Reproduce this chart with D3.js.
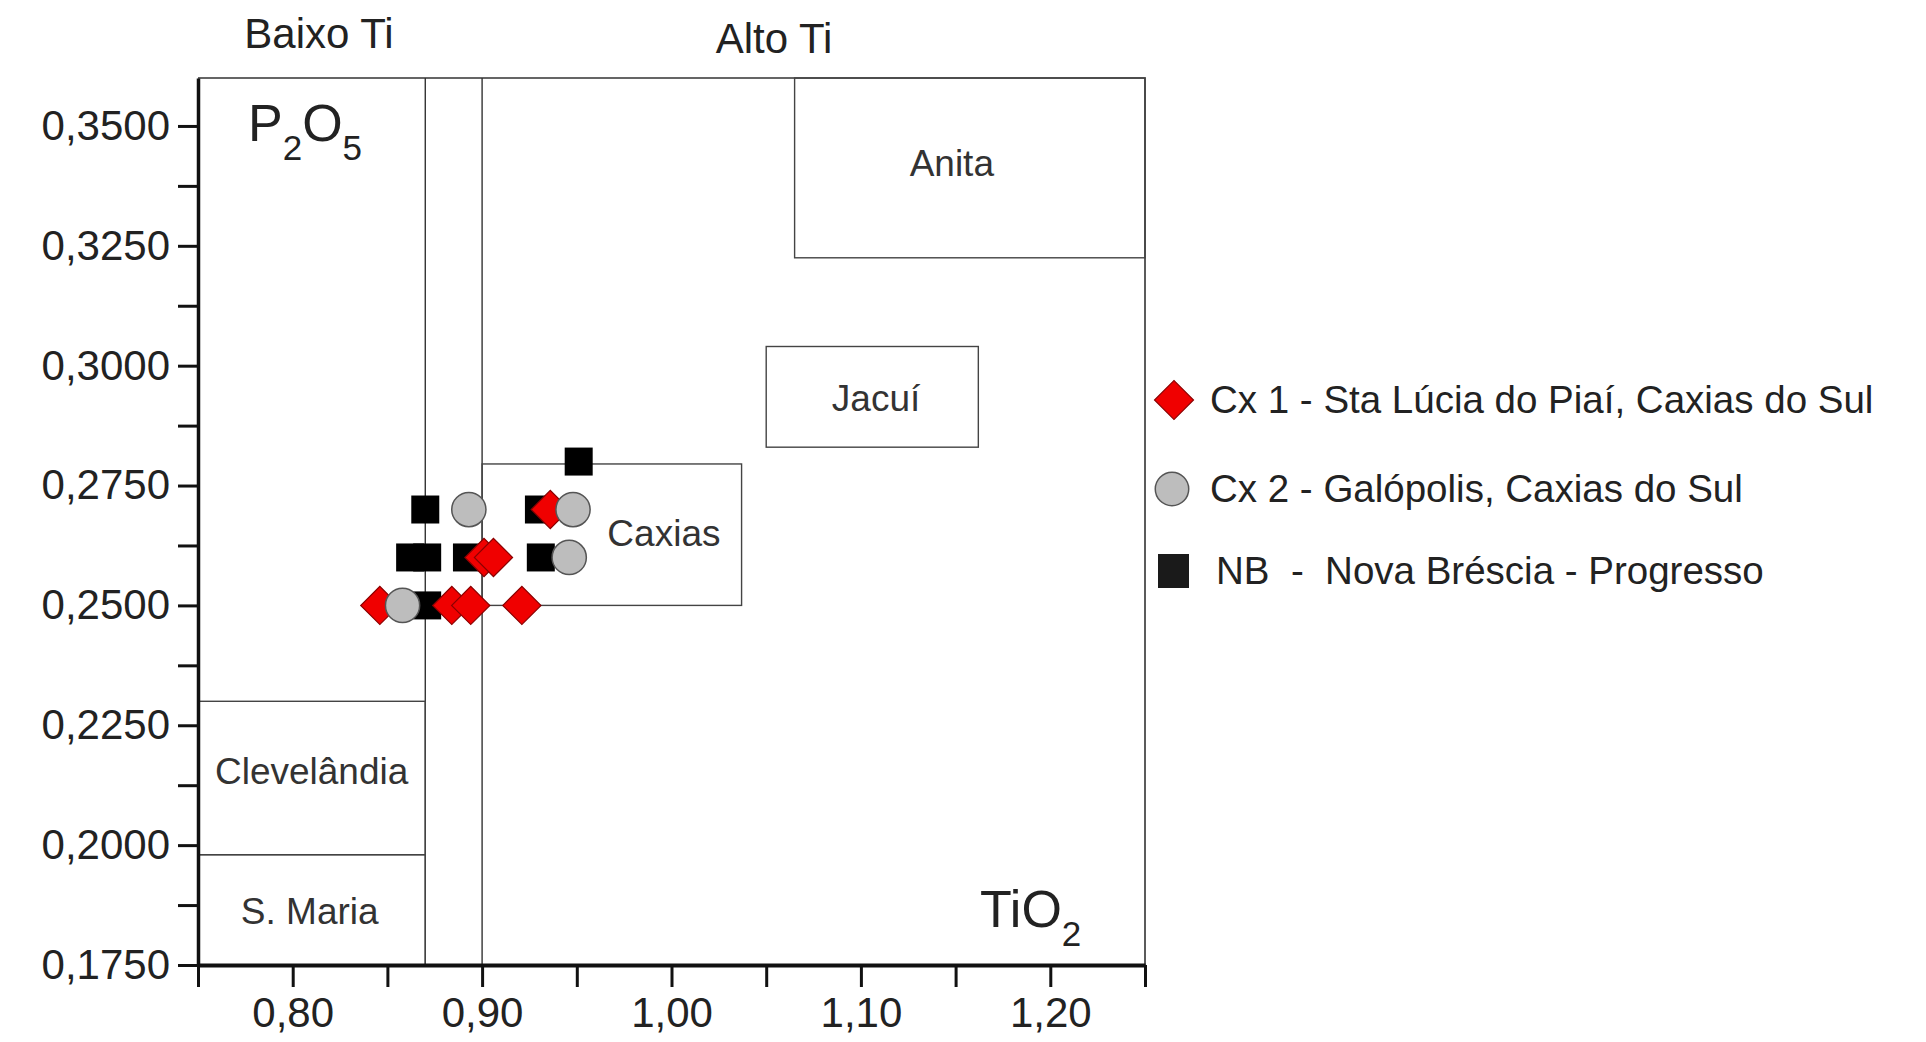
<!DOCTYPE html>
<html>
<head>
<meta charset="utf-8">
<script src="https://cdn.jsdelivr.net/npm/d3@7"></script>
<style>
  body { margin: 0; background: #fff; }
  text { font-family: "Liberation Sans", Arial, sans-serif; fill: #222; }
</style>
</head>
<body>
<div id="chart"></div>
<script>
// DATA ######################################################

// TiO2 (x), P2O5 (y)
const cx1 = [[0.846, 0.25], [0.884, 0.25], [0.894, 0.25], [0.921, 0.25],
             [0.901, 0.26], [0.906, 0.26], [0.936, 0.27]];
const cx2 = [[0.858, 0.25], [0.893, 0.27], [0.946, 0.26], [0.948, 0.27]];
const nb  = [[0.870, 0.27], [0.862, 0.26], [0.871, 0.26], [0.892, 0.26],
             [0.930, 0.27], [0.931, 0.26], [0.871, 0.25], [0.951, 0.28]];

const seriesNames = ["Cx 1 - Sta Lúcia do Piaí, Caxias do Sul",
                     "Cx 2 - Galópolis, Caxias do Sul",
                     "NB  -  Nova Bréscia - Progresso"];

// fields: name, x0, x1, y0, y1, label x, label y
const regions = [
  ["Clevelândia", 0.75, 0.87, 0.198, 0.230, 0.810, 0.2154],
  ["S. Maria",    0.75, 0.87, 0.175, 0.198, 0.809, 0.1863],
  ["Caxias",      0.90, 1.037, 0.250, 0.2795, 0.996, 0.2651],
  ["Jacuí",       1.05, 1.162, 0.283, 0.304, 1.108, 0.2933],
  ["Anita",       1.065, 1.25, 0.3225, 0.36, 1.148, 0.3422]
];
const tiDividers = [0.87, 0.90];

const xMajor = [0.80, 0.90, 1.00, 1.10, 1.20];
const xMinor = [0.75, 0.85, 0.95, 1.05, 1.15, 1.25];
const yMajor = [0.175, 0.200, 0.225, 0.250, 0.275, 0.300, 0.325, 0.350];
const yMinor = [0.1875, 0.2125, 0.2375, 0.2625, 0.2875, 0.3125, 0.3375];

// CONSTANTS #################################################
const width = 1926;
const height = 1042;
const plotLeft = 198, plotRight = 1145, plotTop = 78, plotBottom = 965;

const locale = d3.formatLocale({decimal: ",", thousands: ".", grouping: [3], currency: ["", ""]});
const fmtY = locale.format(".4f");
const fmtX = locale.format(".2f");

// SCALES ====================================================
const xScale = d3.scaleLinear().domain([0.75, 1.25]).range([plotLeft, plotRight]);
const yScale = d3.scaleLinear().domain([0.175, 0.36]).range([plotBottom, plotTop]);

const svg = d3.select("#chart")
  .append("svg")
  .attr("width", width)
  .attr("height", height)
  .style("background", "#fff");

// FRAME + REGIONS ===========================================
svg.append("path")
  .attr("d", `M${plotLeft},${plotTop}H${plotRight}V${plotBottom}`)
  .attr("fill", "none")
  .attr("stroke", "#333")
  .attr("stroke-width", 1.6);

svg.selectAll("line.divider")
  .data(tiDividers)
  .join("line")
  .attr("class", "divider")
  .attr("x1", d => xScale(d)).attr("x2", d => xScale(d))
  .attr("y1", yScale(0.36)).attr("y2", yScale(0.175))
  .attr("stroke", "#333")
  .attr("stroke-width", 1.4);

svg.selectAll("rect.region")
  .data(regions)
  .join("rect")
  .attr("class", "region")
  .attr("x", d => xScale(d[1]))
  .attr("y", d => yScale(d[4]))
  .attr("width", d => xScale(d[2]) - xScale(d[1]))
  .attr("height", d => yScale(d[3]) - yScale(d[4]))
  .attr("fill", "none")
  .attr("stroke", "#444")
  .attr("stroke-width", 1.4);

svg.selectAll("text.region")
  .data(regions)
  .join("text")
  .attr("class", "region")
  .attr("x", d => xScale(d[5]))
  .attr("y", d => yScale(d[6]))
  .attr("dy", "0.35em")
  .attr("text-anchor", "middle")
  .style("font-size", "37px")
  .style("fill", "#333")
  .text(d => d[0]);

// AXES ======================================================
const yAxis = svg.append("g")
  .attr("transform", `translate(${plotLeft},0)`)
  .call(d3.axisLeft(yScale).tickValues(yMajor).tickSize(20).tickSizeOuter(0).tickPadding(8).tickFormat(fmtY));
yAxis.select(".domain").attr("stroke-width", 3.5).attr("stroke", "#111");
yAxis.selectAll(".tick line").attr("stroke-width", 3).attr("stroke", "#111");
yAxis.selectAll(".tick text")
  .style("font-size", "42px")
  .style("font-family", "'Liberation Sans', Arial, sans-serif")
  .style("fill", "#222");

svg.append("g")
  .attr("transform", `translate(${plotLeft},0)`)
  .call(d3.axisLeft(yScale).tickValues(yMinor).tickSize(20).tickFormat(""))
  .call(g => g.select(".domain").remove())
  .selectAll(".tick line").attr("stroke-width", 3).attr("stroke", "#111");

const xAxis = svg.append("g")
  .attr("transform", `translate(0,${plotBottom})`)
  .call(d3.axisBottom(xScale).tickValues(xMajor).tickSize(22).tickSizeOuter(0).tickPadding(10).tickFormat(fmtX));
xAxis.select(".domain").attr("stroke-width", 4).attr("stroke", "#111");
xAxis.selectAll(".tick line").attr("stroke-width", 3).attr("stroke", "#111");
xAxis.selectAll(".tick text")
  .style("font-size", "42px")
  .style("font-family", "'Liberation Sans', Arial, sans-serif")
  .style("fill", "#222");

svg.append("g")
  .attr("transform", `translate(0,${plotBottom})`)
  .call(d3.axisBottom(xScale).tickValues(xMinor).tickSize(22).tickFormat(""))
  .call(g => g.select(".domain").remove())
  .selectAll(".tick line").attr("stroke-width", 3).attr("stroke", "#111");

// LABELS ====================================================
svg.append("text").attr("x", 319).attr("y", 48)
  .attr("text-anchor", "middle").style("font-size", "42px").text("Baixo Ti");
svg.append("text").attr("x", 774).attr("y", 53)
  .attr("text-anchor", "middle").style("font-size", "42px").text("Alto Ti");

const p2o5 = svg.append("text").attr("x", 248).attr("y", 141).style("font-size", "52px");
p2o5.append("tspan").text("P");
p2o5.append("tspan").attr("dy", 19).style("font-size", "35px").text("2");
p2o5.append("tspan").attr("dy", -19).text("O");
p2o5.append("tspan").attr("dy", 19).style("font-size", "35px").text("5");

const tio2 = svg.append("text").attr("x", 980).attr("y", 927).style("font-size", "52px");
tio2.append("tspan").text("TiO");
tio2.append("tspan").attr("dy", 19).style("font-size", "35px").text("2");

// MARKERS ===================================================
const squareSym = d3.symbol().type(d3.symbolSquare).size(784);
const diamondSym = d3.symbol().type(d3.symbolSquare).size(730);
const circleSym = d3.symbol().type(d3.symbolCircle).size(920);

svg.selectAll("path.nb")
  .data(nb)
  .join("path")
  .attr("class", "nb")
  .attr("d", squareSym)
  .attr("transform", d => `translate(${xScale(d[0])},${yScale(d[1])})`)
  .attr("fill", "#000");

svg.selectAll("path.cx1")
  .data(cx1)
  .join("path")
  .attr("class", "cx1")
  .attr("d", diamondSym)
  .attr("transform", d => `translate(${xScale(d[0])},${yScale(d[1])}) rotate(45)`)
  .attr("fill", "#f00000")
  .attr("stroke", "#8a0000")
  .attr("stroke-width", 1.2);

svg.selectAll("path.cx2")
  .data(cx2)
  .join("path")
  .attr("class", "cx2")
  .attr("d", circleSym)
  .attr("transform", d => `translate(${xScale(d[0])},${yScale(d[1])})`)
  .attr("fill", "#bdbdbd")
  .attr("stroke", "#555")
  .attr("stroke-width", 1.5);

// LEGEND ====================================================
const legendY = [400, 489, 571];
const legend = svg.append("g");

legend.append("path").attr("d", d3.symbol().type(d3.symbolSquare).size(760))
  .attr("transform", `translate(1174,${legendY[0]}) rotate(45)`)
  .attr("fill", "#f00000").attr("stroke", "#8a0000").attr("stroke-width", 1.2);
legend.append("path").attr("d", d3.symbol().type(d3.symbolCircle).size(880))
  .attr("transform", `translate(1172,${legendY[1]})`)
  .attr("fill", "#bdbdbd").attr("stroke", "#555").attr("stroke-width", 1.5);
legend.append("rect")
  .attr("x", 1158).attr("y", legendY[2] - 17).attr("width", 31).attr("height", 34)
  .attr("fill", "#1a1a1a");

legend.selectAll("text")
  .data(seriesNames)
  .join("text")
  .attr("x", (d, i) => i === 2 ? 1216 : 1210)
  .attr("y", (d, i) => legendY[i])
  .attr("dy", "0.35em")
  .style("font-size", "38.5px")
  .style("white-space", "pre")
  .text(d => d);
</script>
</body>
</html>
